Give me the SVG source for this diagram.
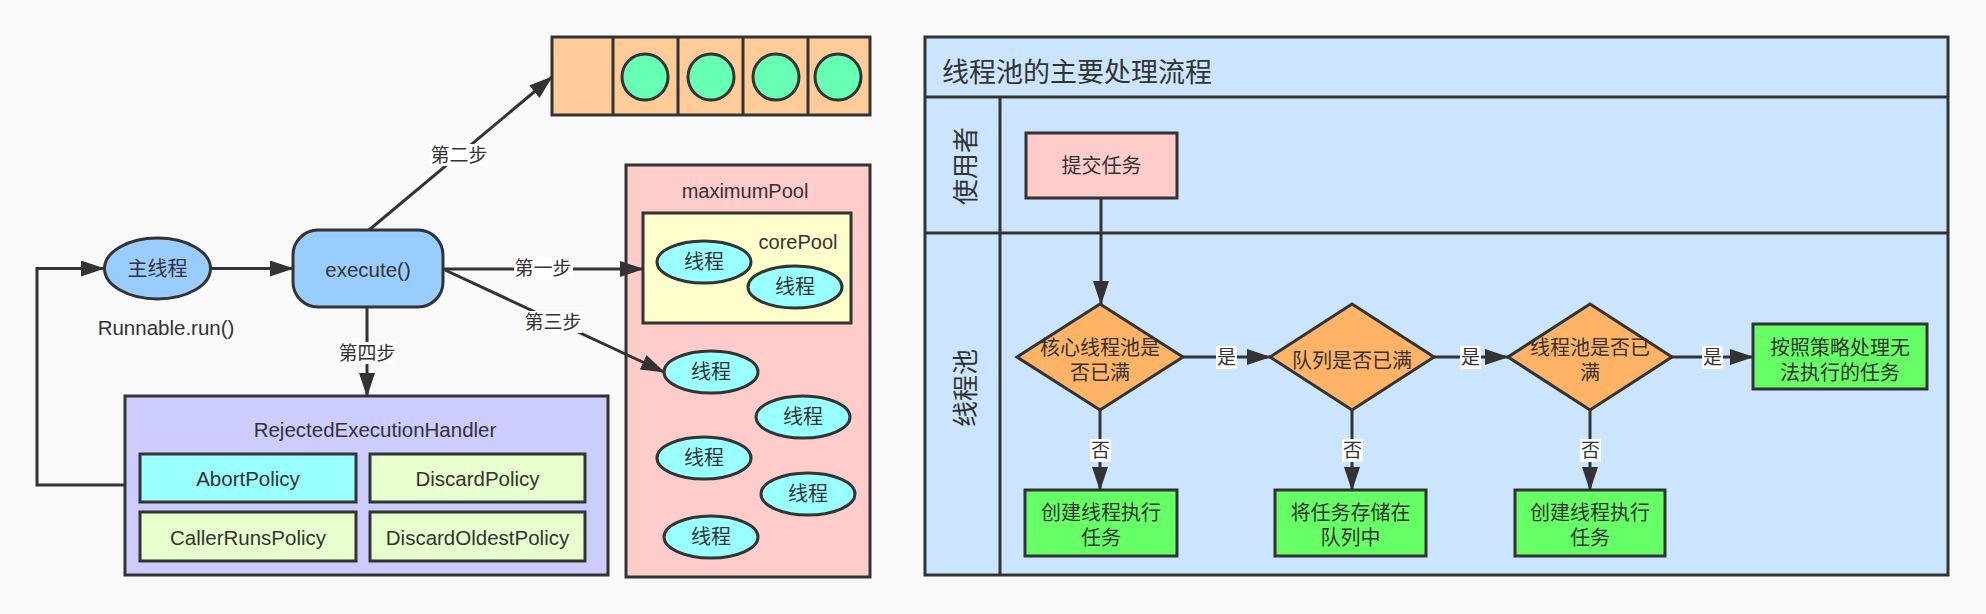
<svg xmlns="http://www.w3.org/2000/svg" width="1986" height="614" viewBox="0 0 1986 614">
<style>
.s{stroke:#333;stroke-width:3}
.t{font-family:"Liberation Sans","Noto Sans CJK SC",sans-serif;fill:#333;font-size:20px;text-anchor:middle;dominant-baseline:central}
.lbl{font-size:19px}
.e{stroke:#333;stroke-width:3;fill:none}
.lb{fill:#fff}
.thr{fill:#99FFFF;stroke:#333;stroke-width:3}
.pol{fill:#E6FFCC;stroke:#333;stroke-width:3}
.gr{fill:#66FF66;stroke:#333;stroke-width:3}
.dia{fill:#FFB366;stroke:#333;stroke-width:3}
</style>
<defs>
<marker id="ah" viewBox="0 0 24 16" refX="23" refY="8" markerWidth="24" markerHeight="16" markerUnits="userSpaceOnUse" orient="auto">
<path d="M0,0 L24,8 L0,16 z" fill="#333"/>
</marker>
</defs>
<rect width="1986" height="614" fill="#F9F9F9"/>

<!-- Left diagram -->
<g id="queue">
<rect x="552" y="37" width="318" height="78" fill="#FFCC99" class="s"/>
<line x1="613" y1="37" x2="613" y2="115" class="s"/>
<line x1="678" y1="37" x2="678" y2="115" class="s"/>
<line x1="743" y1="37" x2="743" y2="115" class="s"/>
<line x1="808" y1="37" x2="808" y2="115" class="s"/>
<ellipse cx="645" cy="77" rx="23" ry="23" fill="#66FFB3" class="s"/>
<ellipse cx="711" cy="77" rx="23" ry="23" fill="#66FFB3" class="s"/>
<ellipse cx="776" cy="77" rx="23" ry="23" fill="#66FFB3" class="s"/>
<ellipse cx="838" cy="77" rx="23" ry="23" fill="#66FFB3" class="s"/>
</g>

<g id="maximumPool">
<rect x="626" y="165" width="244" height="412" fill="#FFCCCC" class="s"/>
<text x="745" y="191" class="t">maximumPool</text>
</g>
<g id="corePool">
<rect x="643" y="213" width="208" height="110" fill="#FFFFCC" class="s"/>
<text x="798" y="242" class="t">corePool</text>
</g>
<g id="thread1"><ellipse cx="704" cy="262" rx="47" ry="21" class="thr"/><text x="704" y="262" class="t">线程</text></g>
<g id="thread2"><ellipse cx="795" cy="287" rx="47" ry="21" class="thr"/><text x="795" y="287" class="t">线程</text></g>
<g id="thread3"><ellipse cx="711" cy="372" rx="47" ry="21" class="thr"/><text x="711" y="372" class="t">线程</text></g>
<g id="thread4"><ellipse cx="803" cy="417" rx="47" ry="21" class="thr"/><text x="803" y="417" class="t">线程</text></g>
<g id="thread5"><ellipse cx="704" cy="458" rx="47" ry="21" class="thr"/><text x="704" y="458" class="t">线程</text></g>
<g id="thread6"><ellipse cx="808" cy="494" rx="47" ry="21" class="thr"/><text x="808" y="494" class="t">线程</text></g>
<g id="thread7"><ellipse cx="711" cy="537" rx="47" ry="21" class="thr"/><text x="711" y="537" class="t">线程</text></g>

<g id="mainThread">
<ellipse cx="157.5" cy="268.5" rx="53" ry="30.5" fill="#99CCFF" class="s"/>
<text x="157.5" y="268.5" class="t">主线程</text>
</g>
<g id="runnableLabel"><text x="166" y="327" class="t" style="font-size:20.5px">Runnable.run()</text></g>
<g id="execute">
<rect x="293" y="230" width="150" height="77" rx="25" ry="25" fill="#99CCFF" class="s"/>
<text x="368" y="269" class="t" style="font-size:20.5px">execute()</text>
</g>

<g id="rejected">
<rect x="125" y="396" width="483" height="179" fill="#CCCCFF" class="s"/>
<text x="375" y="429" class="t" style="font-size:20.5px">RejectedExecutionHandler</text>
</g>
<g id="abortPolicy"><rect x="140" y="454" width="216" height="48" fill="#99FFFF" class="s"/><text x="248" y="478" class="t" style="font-size:20.5px">AbortPolicy</text></g>
<g id="discardPolicy"><rect x="370" y="454" width="215" height="48" class="pol"/><text x="477.5" y="478" class="t" style="font-size:20.5px">DiscardPolicy</text></g>
<g id="callerRunsPolicy"><rect x="140" y="512" width="216" height="49" class="pol"/><text x="248" y="537" class="t" style="font-size:20.5px">CallerRunsPolicy</text></g>
<g id="discardOldestPolicy"><rect x="370" y="512" width="215" height="49" class="pol"/><text x="477.5" y="537" class="t" style="font-size:20.5px">DiscardOldestPolicy</text></g>

<g id="connectors-left">
<path d="M125,485 H37 V268.5 H104" class="e" marker-end="url(#ah)"/>
<path d="M211,268.5 H293" class="e" marker-end="url(#ah)"/>
<path d="M369,230 L552,77" class="e" marker-end="url(#ah)"/>
<path d="M443,269 H643" class="e" marker-end="url(#ah)"/>
<path d="M445,270 L664,372" class="e" marker-end="url(#ah)"/>
<path d="M367,307 V396" class="e" marker-end="url(#ah)"/>
<rect x="430" y="144" width="58" height="22" class="lb"/>
<text x="459" y="155" class="t lbl">第二步</text>
<rect x="514" y="257" width="59" height="22" class="lb"/>
<text x="543" y="268" class="t lbl">第一步</text>
<rect x="524" y="311" width="58" height="22" class="lb"/>
<text x="553" y="322" class="t lbl">第三步</text>
<rect x="338" y="342" width="58" height="22" class="lb"/>
<text x="367" y="353" class="t lbl">第四步</text>
</g>

<!-- Right diagram: swimlane -->
<g id="swimlane">
<rect x="925" y="37" width="1023" height="538" fill="#CCE5FF" class="s"/>
<line x1="925" y1="97" x2="1948" y2="97" class="s"/>
<line x1="925" y1="233" x2="1948" y2="233" class="s"/>
<line x1="1000" y1="97" x2="1000" y2="575" class="s"/>
<text x="942" y="73" class="t" style="font-size:27px;text-anchor:start">线程池的主要处理流程</text>
<text x="0" y="0" class="t" style="font-size:26px" transform="translate(966,166) rotate(-90)">使用者</text>
<text x="0" y="0" class="t" style="font-size:26px" transform="translate(966,388) rotate(-90)">线程池</text>
</g>

<g id="submit"><rect x="1026" y="133" width="151" height="65" fill="#FFCCCC" class="s"/><text x="1101.5" y="166" class="t">提交任务</text></g>

<g id="d1"><polygon points="1100,304 1183,357 1100,410 1017,357" class="dia"/>
<text x="1100" y="348" class="t">核心线程池是</text><text x="1100" y="373" class="t">否已满</text></g>
<g id="d2"><polygon points="1352,304 1434,357 1352,410 1270,357" class="dia"/>
<text x="1352" y="361" class="t">队列是否已满</text></g>
<g id="d3"><polygon points="1590,304 1672,357 1590,410 1508,357" class="dia"/>
<text x="1590" y="348" class="t">线程池是否已</text><text x="1590" y="373" class="t">满</text></g>

<g id="reject"><rect x="1753" y="324" width="174" height="65" class="gr"/>
<text x="1840" y="348" class="t">按照策略处理无</text><text x="1840" y="373" class="t">法执行的任务</text></g>
<g id="b1"><rect x="1025" y="490" width="152" height="66" class="gr"/>
<text x="1101" y="513" class="t">创建线程执行</text><text x="1101" y="538" class="t">任务</text></g>
<g id="b2"><rect x="1275" y="490" width="151" height="66" class="gr"/>
<text x="1350.5" y="513" class="t">将任务存储在</text><text x="1350.5" y="538" class="t">队列中</text></g>
<g id="b3"><rect x="1515" y="490" width="150" height="66" class="gr"/>
<text x="1590" y="513" class="t">创建线程执行</text><text x="1590" y="538" class="t">任务</text></g>

<g id="connectors-right">
<path d="M1101,198 V304" class="e" marker-end="url(#ah)"/>
<path d="M1183,357 H1270" class="e" marker-end="url(#ah)"/>
<path d="M1434,357 H1508" class="e" marker-end="url(#ah)"/>
<path d="M1672,357 H1753" class="e" marker-end="url(#ah)"/>
<path d="M1100,410 V490" class="e" marker-end="url(#ah)"/>
<path d="M1352,410 V490" class="e" marker-end="url(#ah)"/>
<path d="M1590,410 V490" class="e" marker-end="url(#ah)"/>
<rect x="1216" y="346" width="21" height="23" class="lb"/><text x="1226.5" y="357" class="t lbl">是</text>
<rect x="1460" y="346" width="21" height="23" class="lb"/><text x="1470.5" y="357" class="t lbl">是</text>
<rect x="1702" y="346" width="21" height="23" class="lb"/><text x="1712.5" y="357" class="t lbl">是</text>
<rect x="1090" y="439" width="21" height="23" class="lb"/><text x="1100.5" y="450" class="t lbl">否</text>
<rect x="1342" y="439" width="21" height="23" class="lb"/><text x="1352.5" y="450" class="t lbl">否</text>
<rect x="1580" y="439" width="21" height="23" class="lb"/><text x="1590.5" y="450" class="t lbl">否</text>
</g>
</svg>
